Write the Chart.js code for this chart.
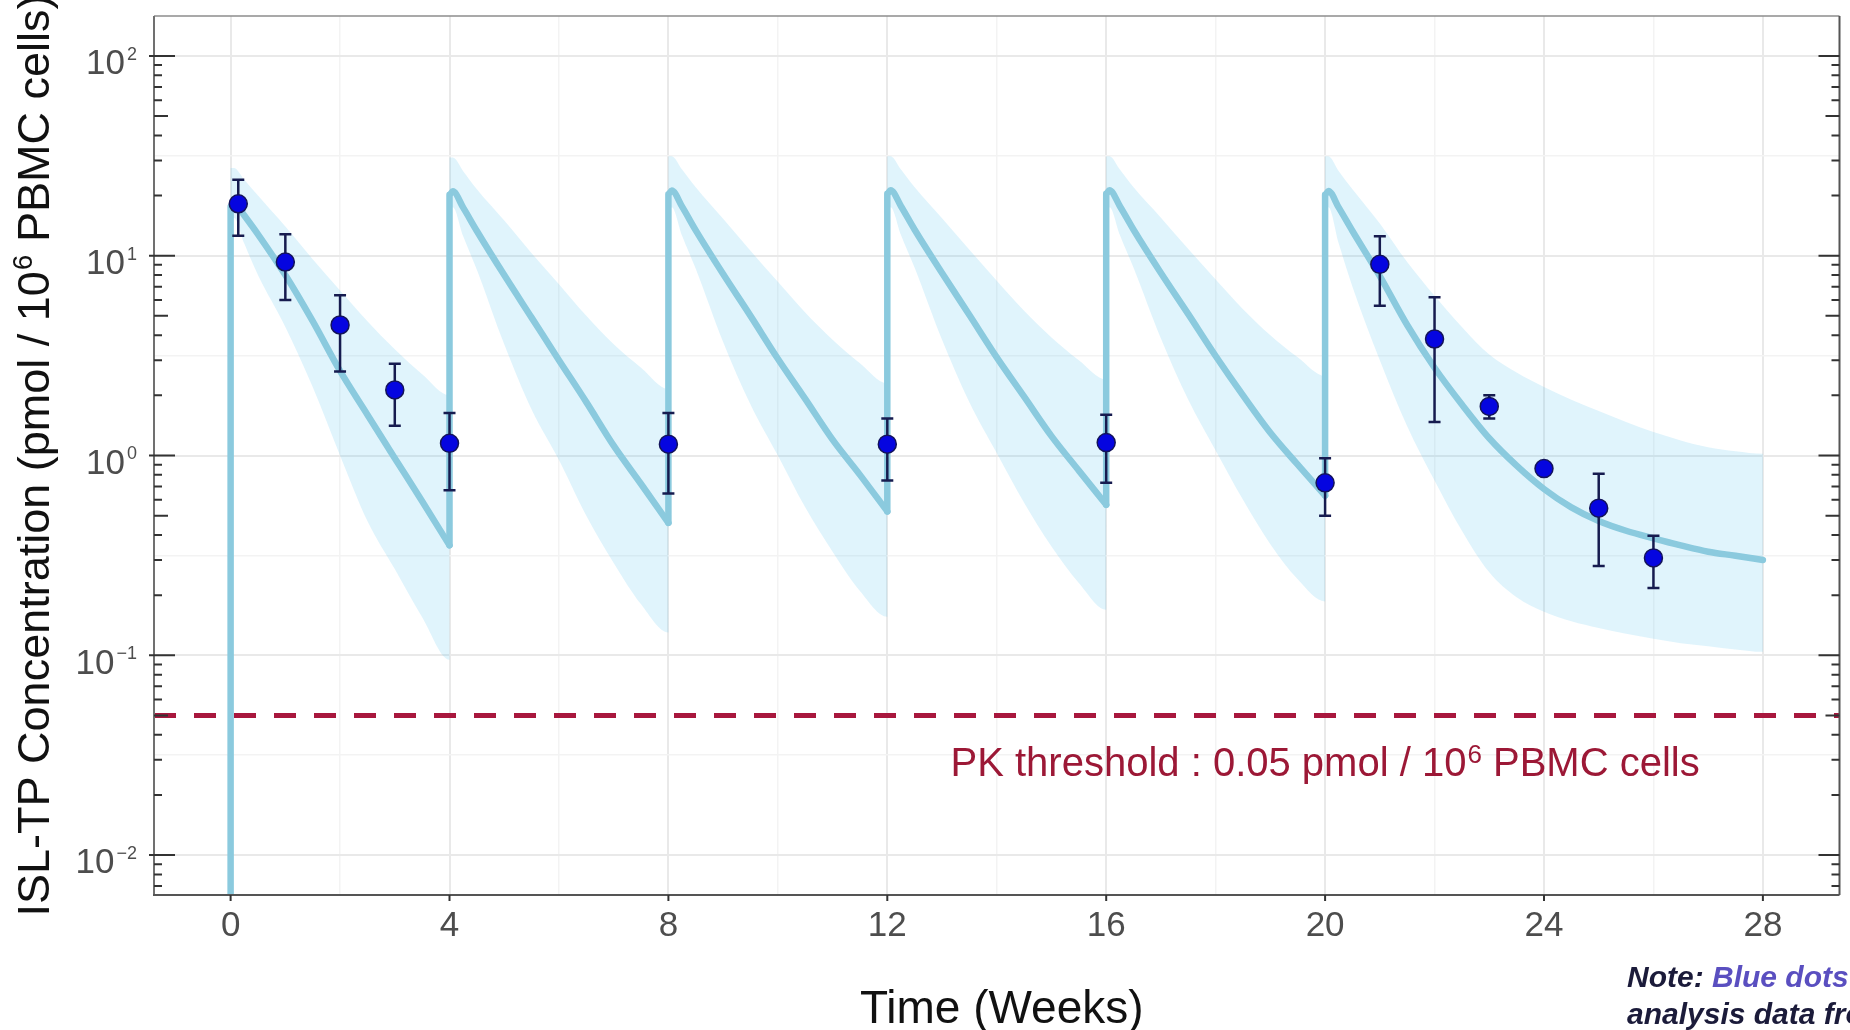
<!DOCTYPE html>
<html>
<head>
<meta charset="utf-8">
<title>ISL-TP PBMC concentration</title>
<script src="https://cdn.jsdelivr.net/npm/chart.js@4.4.1/dist/chart.umd.min.js"></script>
<style>
  html, body { margin: 0; padding: 0; background: #ffffff; overflow: hidden; }
  canvas { display: block; }
</style>
</head>
<body>
<canvas id="c" width="1850" height="1030"></canvas>
<script>
// ---------------- data ----------------
// Monthly dosing, weeks 0-20
const doseWeeks = [0, 4, 8, 12, 16, 20];

// Model median profile, one array per dosing interval (pmol / 10^6 PBMC cells)
const medianWeeks = [
  [0, 0, 0.06, 0.25, 0.5, 1, 1.5, 2, 2.5, 3, 3.5, 4],
  [4, 4, 4.06, 4.25, 4.5, 5, 5.5, 6, 6.5, 7, 7.5, 8],
  [8, 8, 8.06, 8.25, 8.5, 9, 9.5, 10, 10.5, 11, 11.5, 12],
  [12, 12, 12.06, 12.25, 12.5, 13, 13.5, 14, 14.5, 15, 15.5, 16],
  [16, 16, 16.06, 16.25, 16.5, 17, 17.5, 18, 18.5, 19, 19.5, 20],
  [20, 20, 20.06, 20.25, 20.5, 21, 21.5, 22, 22.5, 23, 23.5, 24, 24.5, 25, 25.5, 26, 26.5, 27, 27.5, 28]
];
const medianConc = [
  [0.004, 17.6, 18.6, 15.9, 12.8, 8.0, 4.7, 2.65, 1.6, 0.97, 0.59, 0.355],
  [0.355, 20.2, 21.0, 17.4, 13.3, 8.0, 4.9, 3.0, 1.85, 1.12, 0.72, 0.46],
  [0.46, 20.3, 21.2, 17.6, 13.4, 8.1, 5.0, 3.05, 1.92, 1.2, 0.8, 0.525],
  [0.525, 20.4, 21.3, 17.7, 13.5, 8.2, 5.05, 3.1, 1.97, 1.25, 0.84, 0.567],
  [0.567, 20.4, 21.3, 17.7, 13.5, 8.2, 5.1, 3.15, 2.0, 1.3, 0.9, 0.63],
  [0.63, 20.2, 21.1, 17.4, 13.3, 7.9, 4.5, 2.75, 1.8, 1.22, 0.89, 0.68, 0.55, 0.47, 0.42, 0.385, 0.355, 0.33, 0.315, 0.30]
];

// Prediction interval, one array per dosing interval
const bandWeeks = [
  [0, 0.06, 0.25, 0.5, 1, 1.5, 2, 2.5, 3, 3.5, 4],
  [4, 4.06, 4.25, 4.5, 5, 5.5, 6, 6.5, 7, 7.5, 8],
  [8, 8.06, 8.25, 8.5, 9, 9.5, 10, 10.5, 11, 11.5, 12],
  [12, 12.06, 12.25, 12.5, 13, 13.5, 14, 14.5, 15, 15.5, 16],
  [16, 16.06, 16.25, 16.5, 17, 17.5, 18, 18.5, 19, 19.5, 20],
  [20, 20.06, 20.25, 20.5, 21, 21.5, 22, 22.5, 23, 23.5, 24, 24.5, 25, 25.5, 26, 26.5, 27, 27.5, 28]
];
const bandUpper = [
  [27.5, 27.5, 24, 20, 14, 9.6, 6.7, 4.7, 3.4, 2.55, 2.0],
  [31, 31, 26.5, 21.5, 15, 10.3, 7.2, 5.0, 3.6, 2.75, 2.15],
  [31.5, 31.5, 27, 22, 15.3, 10.6, 7.4, 5.2, 3.8, 2.9, 2.3],
  [31.5, 31.5, 27, 22, 15.4, 10.7, 7.5, 5.3, 3.9, 3.0, 2.4],
  [31.5, 31.5, 27, 22, 15.5, 10.8, 7.6, 5.4, 4.0, 3.1, 2.5],
  [31.5, 31.5, 26.5, 21.5, 14.5, 9.3, 6.3, 4.4, 3.2, 2.6, 2.2, 1.9, 1.67, 1.47, 1.31, 1.19, 1.1, 1.05, 1.02]
];
const bandLower = [
  [14, 15.5, 11.5, 8.0, 4.4, 2.2, 1.0, 0.47, 0.27, 0.155, 0.095],
  [16, 17.5, 12.5, 8.5, 3.6, 1.7, 0.95, 0.5, 0.29, 0.18, 0.13],
  [16, 17.5, 12.6, 8.6, 3.7, 1.8, 1.0, 0.55, 0.33, 0.21, 0.156],
  [16, 17.5, 12.7, 8.7, 3.8, 1.85, 1.03, 0.58, 0.35, 0.23, 0.169],
  [16, 17.5, 12.7, 8.7, 3.85, 1.9, 1.06, 0.6, 0.36, 0.24, 0.186],
  [16, 17.5, 11.5, 7.0, 3.0, 1.4, 0.75, 0.42, 0.26, 0.195, 0.165, 0.148, 0.137, 0.128, 0.121, 0.115, 0.111, 0.107, 0.104]
];

// Observed concentrations (mean with error bars)
const obsWeeks = [0.14, 1, 2, 3, 4, 8, 12, 16, 20, 21, 22, 23, 24, 25, 26];
const obsMean  = [18.2, 9.3, 4.5, 2.13, 1.15, 1.14, 1.14, 1.16, 0.73, 9.06, 3.83, 1.76, 0.86, 0.545, 0.307];
const obsLow   = [12.6, 6.0, 2.63, 1.41, 0.67, 0.645, 0.75, 0.73, 0.50, 5.62, 1.47, 1.53, null, 0.28, 0.217];
const obsHigh  = [24.0, 12.8, 6.34, 2.88, 1.63, 1.63, 1.53, 1.60, 0.97, 12.5, 6.2, 2.0, null, 0.81, 0.396];

// Threshold line and its label
const pkThreshold = 0.05;
const pkLabelAt = { week: 20, conc: 0.025 };

// Axes
const xTickWeeks = [0, 4, 8, 12, 16, 20, 24, 28];
const xGridWeeks = [0, 2, 4, 6, 8, 10, 12, 14, 16, 18, 20, 22, 24, 26, 28];
const yTickExponents = [-2, -1, 0, 1, 2];
const yGridExponents = [-2, -1.5, -1, -0.5, 0, 0.5, 1, 1.5, 2];
const logDecades = [-3, -2, -1, 0, 1, 2];
const logMultipliers = [1, 2, 3, 4, 5, 6, 7, 8, 9];
const xLimits = [-1.4, 29.4];
const yLimitExp = [-2.2, 2.2];

// ---------------- styling ----------------
const FF = '"Liberation Sans", Arial, Helvetica, sans-serif';
const LINE_BLUE = '#8bcade';
const BAND_FILL = 'rgba(100, 200, 240, 0.2)';
const DOT_BLUE = '#0505e0';
const BAR_NAVY = '#161b4f';
const PK_RED = '#a8173d';
const PK_TEXT = '#9c1836';
const TICK_GREY = '#4d4d4d';

// ---------------- datasets ----------------
const bandSets = bandWeeks.map((wk, i) => {
  const upper = wk.map((w, j) => ({ x: w, y: bandUpper[i][j] }));
  const lower = wk.map((w, j) => ({ x: w, y: bandLower[i][j] })).reverse();
  return {
    type: 'line',
    label: 'interval',
    data: upper.concat(lower),
    fill: 'shape',
    backgroundColor: BAND_FILL,
    borderColor: 'transparent',
    borderWidth: 0,
    pointRadius: 0,
    cubicInterpolationMode: 'monotone',
    order: 4,
    clip: 0
  };
});

const medianSets = medianWeeks.map((wk, i) => ({
  type: 'line',
  label: 'median',
  data: wk.map((w, j) => ({ x: w, y: medianConc[i][j] })),
  borderColor: LINE_BLUE,
  borderWidth: 6.5,
  borderJoinStyle: 'round',
  borderCapStyle: 'round',
  pointRadius: 0,
  fill: false,
  cubicInterpolationMode: 'monotone',
  order: 2,
  clip: 0
}));

const thresholdSet = {
  type: 'line',
  label: 'threshold',
  data: [{ x: xLimits[0], y: pkThreshold }, { x: xLimits[1], y: pkThreshold }],
  borderColor: PK_RED,
  borderWidth: 5,
  borderDash: [22, 18],
  pointRadius: 0,
  fill: false,
  order: 3,
  clip: 0
};

const observedSet = {
  type: 'line',
  label: 'Observed',
  data: obsWeeks.map((w, i) => ({ x: w, y: obsMean[i] })),
  showLine: false,
  pointRadius: 9,
  pointStyle: 'circle',
  pointBackgroundColor: DOT_BLUE,
  pointBorderColor: '#13135a',
  pointBorderWidth: 1.5,
  order: 0,
  clip: false
};

// ---------------- helpers ----------------
function richText(ctx, parts, x, y, align) {
  let total = 0;
  parts.forEach(p => {
    ctx.font = p.font;
    p.w = ctx.measureText(p.text).width + (p.gap || 0);
    total += p.w;
  });
  let cx = align === 'right' ? x - total : (align === 'center' ? x - total / 2 : x);
  ctx.textAlign = 'left';
  ctx.textBaseline = 'alphabetic';
  parts.forEach(p => {
    ctx.font = p.font;
    ctx.fillStyle = p.color;
    ctx.fillText(p.text, cx + (p.gap || 0), y + (p.dy || 0));
    cx += p.w;
  });
}

function isDecade(v) {
  const l = Math.log10(v);
  return Math.abs(l - Math.round(l)) < 1e-6;
}

// ---------------- decorations ----------------
const decor = {
  id: 'decor',
  beforeDatasetDraw(chart, args) {
    if (chart.data.datasets[args.index].label !== 'Observed') return;
    const { ctx, chartArea: a, scales: { x, y } } = chart;
    ctx.save();
    ctx.beginPath();
    ctx.rect(a.left, a.top, a.right - a.left, a.bottom - a.top);
    ctx.clip();
    ctx.strokeStyle = BAR_NAVY;
    ctx.lineWidth = 2.5;
    obsWeeks.forEach((w, i) => {
      if (obsLow[i] == null || obsHigh[i] == null) return;
      const px = x.getPixelForValue(w);
      const y0 = y.getPixelForValue(obsLow[i]);
      const y1 = y.getPixelForValue(obsHigh[i]);
      ctx.beginPath();
      ctx.moveTo(px, y0); ctx.lineTo(px, y1);
      ctx.moveTo(px - 6, y0); ctx.lineTo(px + 6, y0);
      ctx.moveTo(px - 6, y1); ctx.lineTo(px + 6, y1);
      ctx.stroke();
    });
    ctx.restore();
  },
  afterDraw(chart) {
    const { ctx, chartArea: a, scales: { x, y } } = chart;
    ctx.save();

    // panel frame
    ctx.lineCap = 'butt';
    ctx.strokeStyle = '#8c8c8c'; ctx.lineWidth = 1.5;
    ctx.beginPath(); ctx.moveTo(a.left, a.top); ctx.lineTo(a.right, a.top); ctx.stroke();
    ctx.strokeStyle = '#555555'; ctx.lineWidth = 2;
    ctx.beginPath(); ctx.moveTo(a.right, a.top); ctx.lineTo(a.right, a.bottom); ctx.stroke();
    ctx.strokeStyle = '#707070'; ctx.lineWidth = 2;
    ctx.beginPath(); ctx.moveTo(a.left, a.top); ctx.lineTo(a.left, a.bottom); ctx.stroke();
    ctx.strokeStyle = '#555555';
    ctx.beginPath(); ctx.moveTo(a.left - 1, a.bottom); ctx.lineTo(a.right, a.bottom); ctx.stroke();

    // log ticks on both vertical sides
    const vmin = Math.pow(10, yLimitExp[0]), vmax = Math.pow(10, yLimitExp[1]);
    ctx.strokeStyle = '#333333'; ctx.lineWidth = 2;
    logDecades.forEach(d => {
      logMultipliers.forEach(k => {
        const v = k * Math.pow(10, d);
        if (v < vmin || v > vmax) return;
        const py = y.getPixelForValue(v);
        const len = k === 1 ? 21 : (k === 5 ? 14 : 8);
        const out = k === 1 ? 5 : 0;
        ctx.beginPath();
        ctx.moveTo(a.left - out, py); ctx.lineTo(a.left + len, py);
        ctx.moveTo(a.right, py); ctx.lineTo(a.right - len, py);
        ctx.stroke();
      });
    });

    // x ticks
    xTickWeeks.forEach(w => {
      const px = x.getPixelForValue(w);
      ctx.beginPath(); ctx.moveTo(px, a.bottom); ctx.lineTo(px, a.bottom + 6); ctx.stroke();
    });

    // x tick labels
    ctx.fillStyle = TICK_GREY;
    ctx.font = '35px ' + FF;
    ctx.textAlign = 'center';
    ctx.textBaseline = 'alphabetic';
    xTickWeeks.forEach(w => {
      ctx.fillText(String(w), x.getPixelForValue(w), a.bottom + 41);
    });

    // y tick labels as powers of ten
    yTickExponents.forEach(e => {
      const py = y.getPixelForValue(Math.pow(10, e));
      richText(ctx, [
        { text: '10', font: '35px ' + FF, color: TICK_GREY },
        { text: e < 0 ? '\u2212' + (-e) : String(e), font: '18px ' + FF, color: TICK_GREY, dy: -14.5, gap: 2 }
      ], 137, py + 18.3, 'right');
    });

    // axis titles
    richText(ctx, [{ text: 'Time (Weeks)', font: '46px ' + FF, color: '#111111' }],
      (a.left + a.right) / 2 + 5, 1023, 'center');

    ctx.save();
    ctx.translate(49, (a.top + a.bottom) / 2);
    ctx.rotate(-Math.PI / 2);
    richText(ctx, [
      { text: 'ISL-TP Concentration (pmol / 10', font: '45px ' + FF, color: '#111111' },
      { text: '6', font: '28px ' + FF, color: '#111111', dy: -17, gap: 1 },
      { text: ' PBMC cells)', font: '45px ' + FF, color: '#111111' }
    ], 0, 0, 'center');
    ctx.restore();

    // threshold label
    richText(ctx, [
      { text: 'PK threshold : 0.05 pmol / 10', font: '40px ' + FF, color: PK_TEXT },
      { text: '6', font: '26px ' + FF, color: PK_TEXT, dy: -13, gap: 1 },
      { text: ' PBMC cells', font: '40px ' + FF, color: PK_TEXT }
    ], x.getPixelForValue(pkLabelAt.week), y.getPixelForValue(pkLabelAt.conc), 'center');

    // footnote
    const noteFont = 'italic bold 30px ' + FF;
    richText(ctx, [
      { text: 'Note:', font: noteFont, color: '#1b1b3a' },
      { text: ' Blue dots', font: noteFont, color: '#5a4fc0' }
    ], 1627, 987, 'left');
    richText(ctx, [{ text: 'analysis data from', font: noteFont, color: '#1b1b3a' }], 1627, 1024, 'left');

    ctx.restore();
  }
};

// ---------------- chart ----------------
new Chart(document.getElementById('c').getContext('2d'), {
  type: 'line',
  data: { datasets: [observedSet].concat(medianSets, [thresholdSet], bandSets) },
  options: {
    responsive: false,
    animation: false,
    devicePixelRatio: 1,
    events: [],
    layout: { padding: { left: 154, right: 3, top: 16, bottom: 135 } },
    plugins: { legend: { display: false }, tooltip: { enabled: false }, title: { display: false } },
    scales: {
      x: {
        type: 'linear',
        min: xLimits[0],
        max: xLimits[1],
        bounds: 'data',
        ticks: { display: false },
        border: { display: false },
        grid: {
          drawTicks: false,
          color: c => (c.tick && c.tick.value % 4 === 0) ? '#e9e9e9' : '#f3f3f3',
          lineWidth: c => (c.tick && c.tick.value % 4 === 0) ? 2 : 1.5
        },
        afterBuildTicks: s => { s.ticks = xGridWeeks.map(v => ({ value: v })); }
      },
      y: {
        type: 'logarithmic',
        min: Math.pow(10, yLimitExp[0]),
        max: Math.pow(10, yLimitExp[1]),
        bounds: 'data',
        ticks: { display: false },
        border: { display: false },
        grid: {
          drawTicks: false,
          color: c => (c.tick && isDecade(c.tick.value)) ? '#e9e9e9' : '#f3f3f3',
          lineWidth: c => (c.tick && isDecade(c.tick.value)) ? 2 : 1.5
        },
        afterBuildTicks: s => { s.ticks = yGridExponents.map(e => ({ value: Math.pow(10, e) })); }
      }
    }
  },
  plugins: [decor]
});
</script>
</body>
</html>
